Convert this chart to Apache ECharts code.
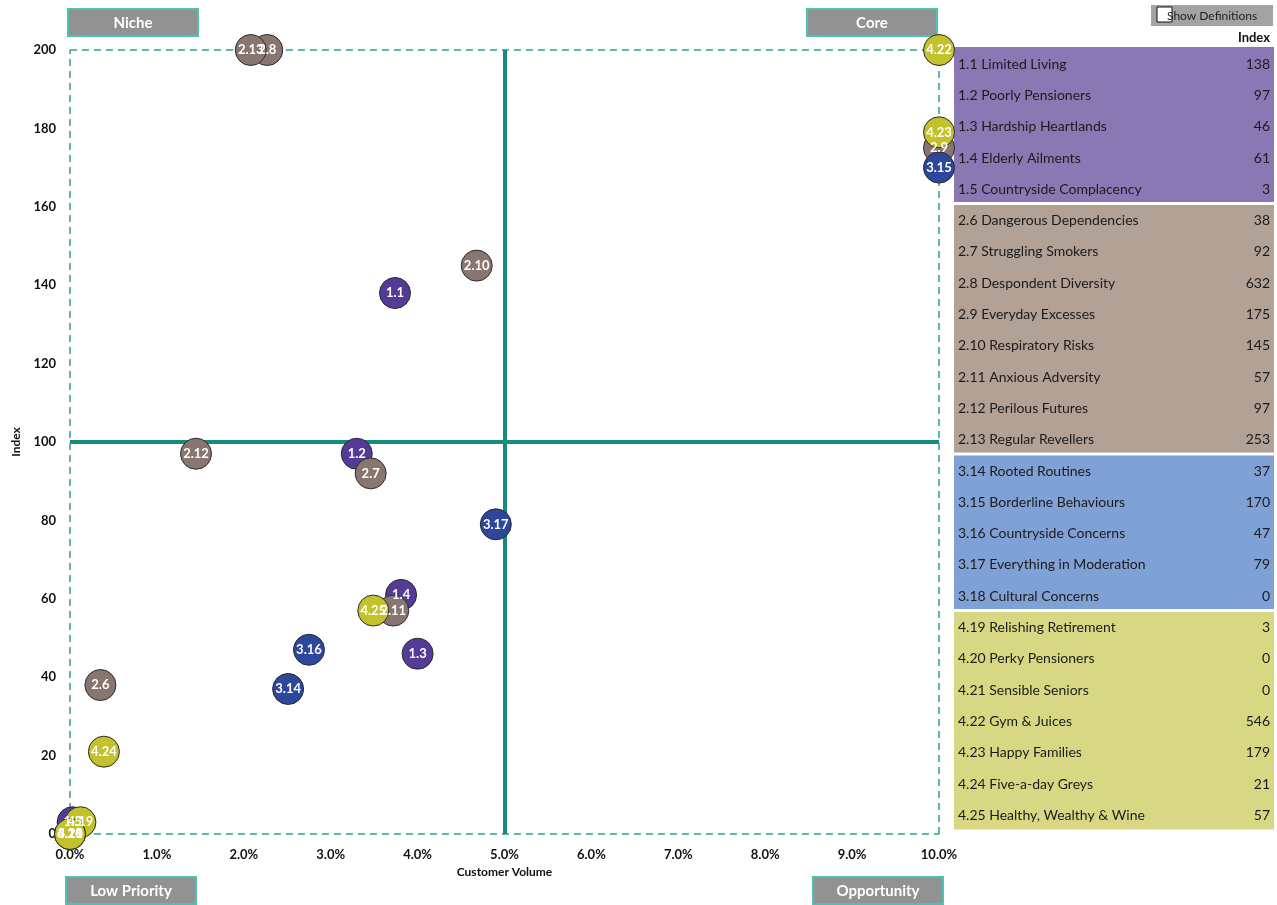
<!DOCTYPE html>
<html>
<head>
<meta charset="utf-8">
<title>Segment Opportunity Matrix</title>
<script src="https://cdn.jsdelivr.net/npm/echarts@6/dist/echarts.min.js"></script>
<style>
  html, body { margin: 0; padding: 0; background: #ffffff; }
  #chart { width: 1277px; height: 905px; }
</style>
</head>
<body>
<div id="chart"></div>
<script>
// Segment codes, names and group (first digit of the code)
const segIds = ['1.1','1.2','1.3','1.4','1.5','2.6','2.7','2.8','2.9','2.10','2.11','2.12','2.13',
                '3.14','3.15','3.16','3.17','3.18','4.19','4.20','4.21','4.22','4.23','4.24','4.25'];
const segNames = ['Limited Living','Poorly Pensioners','Hardship Heartlands','Elderly Ailments','Countryside Complacency',
                  'Dangerous Dependencies','Struggling Smokers','Despondent Diversity','Everyday Excesses','Respiratory Risks',
                  'Anxious Adversity','Perilous Futures','Regular Revellers',
                  'Rooted Routines','Borderline Behaviours','Countryside Concerns','Everything in Moderation','Cultural Concerns',
                  'Relishing Retirement','Perky Pensioners','Sensible Seniors','Gym & Juices','Happy Families',
                  'Five-a-day Greys','Healthy, Wealthy & Wine'];
const segGroup = [1,1,1,1,1, 2,2,2,2,2,2,2,2, 3,3,3,3,3, 4,4,4,4,4,4,4];
// Index per segment
const segIndex = [138,97,46,61,3, 38,92,632,175,145,57,97,253, 37,170,47,79,0, 3,0,0,546,179,21,57];
// Customer volume per segment (%)
const segVolume = [3.74,3.30,4.00,3.81,0.03, 0.35,3.46,2.27,10.0,4.68,3.72,1.45,2.08,
                   2.51,10.0,2.75,4.90,0.0, 0.12,0.0,0.0,10.0,10.0,0.39,3.49];

// Axis extent and quadrant split
const xTicks = [0,1,2,3,4,5,6,7,8,9,10];
const yTicks = [0,20,40,60,80,100,120,140,160,180,200];
const xMax = 10, yMax = 200, xSplit = 5, ySplit = 100;

const quadrantNames = ['Niche','Core','Low Priority','Opportunity'];

const markerColors = { 1: '#553b98', 2: '#8a7670', 3: '#2d479c', 4: '#c3c12c' };
const rowColors    = { 1: '#8a78b4', 2: '#b2a195', 3: '#7fa1d5', 4: '#d8d884' };

const FONT = 'Lato, "Open Sans", sans-serif';
const TEAL = '#188a7c';
const TEAL_DASH = '#2a9f92';

// Scatter series, one per group; points past the axis extent sit on the border
const groups = [1,2,3,4];
const scatterSeries = groups.map(g => {
  const data = [];
  segIds.forEach((id, i) => {
    if (segGroup[i] !== g) return;
    data.push({ name: id, value: [Math.min(segVolume[i], xMax), Math.min(segIndex[i], yMax)] });
  });
  return {
    type: 'scatter',
    z: 3,
    clip: false,
    symbol: 'circle',
    symbolSize: 31,
    itemStyle: { color: markerColors[g], opacity: 1, borderColor: '#2b2b2b', borderWidth: 1 },
    label: {
      show: true, position: 'inside', formatter: p => p.name,
      color: '#ffffff', fontFamily: FONT, fontWeight: 'bold', fontSize: 13
    },
    emphasis: { disabled: true },
    data
  };
});

// Quadrant dividers and dashed frame
const frameSeries = {
  type: 'scatter',
  z: 1,
  data: [],
  silent: true,
  markLine: {
    z: 1,
    silent: true, symbol: 'none', animation: false,
    label: { show: false },
    data: [
      [{ coord: [0, 0], lineStyle: { color: TEAL_DASH, width: 1.5, type: [7, 5] } }, { coord: [xMax, 0] }],
      [{ coord: [0, yMax], lineStyle: { color: TEAL_DASH, width: 1.5, type: [7, 5] } }, { coord: [xMax, yMax] }],
      [{ coord: [0, 0], lineStyle: { color: TEAL_DASH, width: 1.5, type: [7, 5] } }, { coord: [0, yMax] }],
      [{ coord: [xMax, 0], lineStyle: { color: TEAL_DASH, width: 1.5, type: [7, 5] } }, { coord: [xMax, yMax] }],
      [{ coord: [xSplit, 0], lineStyle: { color: TEAL, width: 4, type: 'solid' } }, { coord: [xSplit, yMax] }],
      [{ coord: [0, ySplit], lineStyle: { color: TEAL, width: 4, type: 'solid' } }, { coord: [xMax, ySplit] }]
    ]
  }
};

// Side table: segment list with index values
const tableLeft = 954, tableRight = 1274, tableTop = 47, rowH = 31.3;
const tableGraphics = [];
groups.forEach(g => {
  const idx = segGroup.map((v, i) => v === g ? i : -1).filter(i => i >= 0);
  const first = idx[0], last = idx[idx.length - 1];
  const y0 = tableTop + first * rowH + (first === 0 ? 0 : 1.5);
  const y1 = tableTop + (last + 1) * rowH - (last === segIds.length - 1 ? 0 : 1.5);
  tableGraphics.push({
    type: 'rect', silent: true,
    shape: { x: tableLeft, y: y0, width: tableRight - tableLeft, height: y1 - y0 },
    style: { fill: rowColors[g] }
  });
});
segIds.forEach((id, i) => {
  const cy = tableTop + (i + 0.5) * rowH + 1.5;
  tableGraphics.push({
    type: 'text', silent: true, x: tableLeft + 4, y: cy,
    style: { text: id + ' ' + segNames[i], fill: '#1b1b1b', font: '14px ' + FONT, verticalAlign: 'middle', align: 'left' }
  });
  tableGraphics.push({
    type: 'text', silent: true, x: tableRight - 4, y: cy,
    style: { text: String(segIndex[i]), fill: '#1b1b1b', font: '14px ' + FONT, verticalAlign: 'middle', align: 'right' }
  });
});
tableGraphics.push({
  type: 'text', silent: true, x: tableRight - 4, y: 38,
  style: { text: 'Index', fill: '#111111', font: 'bold 13px ' + FONT, verticalAlign: 'middle', align: 'right' }
});

// "Show Definitions" toggle
const toggleGraphics = [
  { type: 'rect', silent: true, shape: { x: 1151, y: 5, width: 122, height: 21 }, style: { fill: '#a3a3a3' } },
  { type: 'rect', silent: true, shape: { x: 1157, y: 7, width: 15, height: 15 }, style: { fill: '#ffffff', stroke: '#111111', lineWidth: 1 } },
  { type: 'text', silent: true, x: 1167, y: 16,
    style: { text: 'Show Definitions', fill: '#222222', font: '12px ' + FONT, verticalAlign: 'middle', align: 'left' } }
];

// Quadrant name boxes
const quadBoxes = [
  { x: 68, y: 9 }, { x: 807, y: 9 }, { x: 66, y: 877 }, { x: 813, y: 877 }
];
const quadGraphics = [];
quadBoxes.forEach((b, i) => {
  quadGraphics.push({
    type: 'rect', silent: true,
    shape: { x: b.x, y: b.y, width: 130, height: 27 },
    style: { fill: '#929292', stroke: '#4dc2b3', lineWidth: 2 }
  });
  quadGraphics.push({
    type: 'text', silent: true, x: b.x + 65, y: b.y + 14,
    style: { text: quadrantNames[i], fill: '#ffffff', font: 'bold 15px ' + FONT, align: 'center', verticalAlign: 'middle' }
  });
});

const chart = echarts.init(document.getElementById('chart'), null, { renderer: 'canvas' });
chart.setOption({
  animation: false,
  backgroundColor: '#ffffff',
  textStyle: { fontFamily: FONT },
  grid: { left: 70, right: 338, top: 50, bottom: 71, containLabel: false },
  xAxis: {
    type: 'value', min: xTicks[0], max: xTicks[xTicks.length - 1], interval: 1,
    name: 'Customer Volume', nameLocation: 'middle', nameGap: 27,
    nameTextStyle: { color: '#111111', fontWeight: 'bold', fontSize: 12, fontFamily: FONT },
    axisLine: { show: false }, axisTick: { show: false }, splitLine: { show: false },
    axisLabel: { color: '#111111', fontWeight: 'bold', fontSize: 13, fontFamily: FONT, margin: 14,
                 formatter: v => v.toFixed(1) + '%' }
  },
  yAxis: {
    type: 'value', min: yTicks[0], max: yTicks[yTicks.length - 1], interval: 20,
    name: 'Index', nameLocation: 'middle', nameGap: 45, nameRotate: 90,
    nameTextStyle: { color: '#111111', fontWeight: 'bold', fontSize: 12, fontFamily: FONT },
    axisLine: { show: false }, axisTick: { show: false }, splitLine: { show: false },
    axisLabel: { color: '#111111', fontWeight: 'bold', fontSize: 13, fontFamily: FONT, margin: 14 }
  },
  graphic: [].concat(quadGraphics, tableGraphics, toggleGraphics),
  series: [frameSeries].concat(scatterSeries)
});
</script>
</body>
</html>
